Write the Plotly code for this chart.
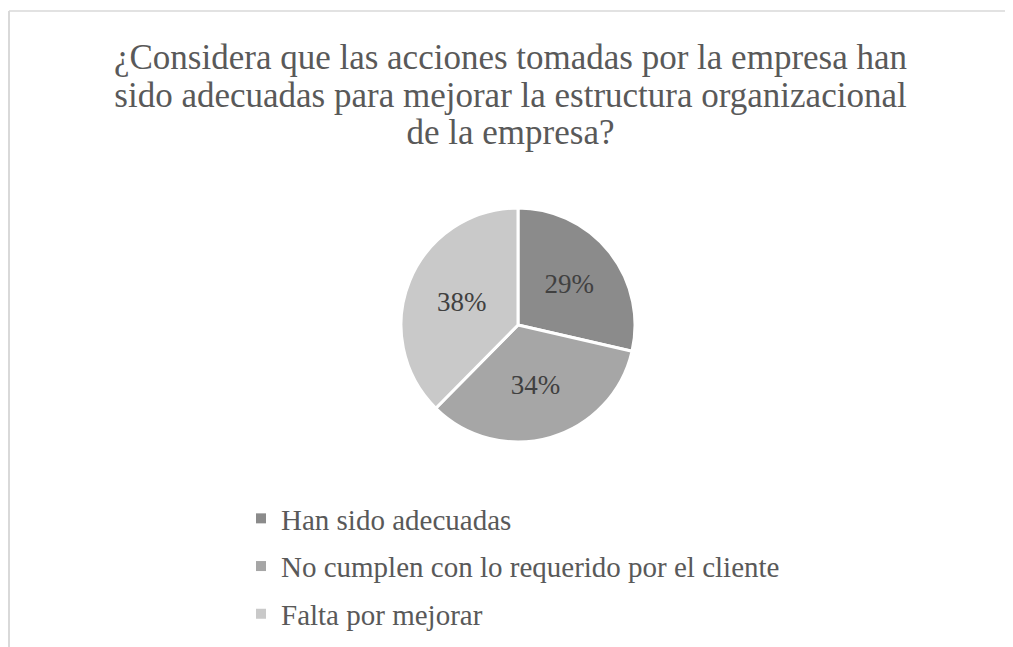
import plotly.graph_objects as go

categorias = ["Han sido adecuadas", "No cumplen con lo requerido por el cliente", "Falta por mejorar"]
porcentajes = [28.6, 33.8, 37.6]
colores = ["#8b8b8b", "#a6a6a6", "#c9c9c9"]

titulo_lineas = [
    "¿Considera que las acciones tomadas por la empresa han",
    "sido adecuadas para mejorar la estructura organizacional",
    "de la empresa?",
]

# la página tiene un margen de 8 px, la figura empieza en (8, 8)
OFF = 8
W, H = 1013 - OFF, 647 - OFF
fuente = "Liberation Serif"


def px(x):
    return (x - OFF) / W


def py(y):
    return 1 - (y - OFF) / H


# interlineado de 29 px * 1.3, letras a 35 px
titulo = "<br>".join(f"<span style='font-size:35px'>{t}</span>" for t in titulo_lineas)

fig = go.Figure()

# pastel
cx, cy, r = 518, 325, 117
fig.add_trace(
    go.Pie(
        labels=categorias,
        values=porcentajes,
        sort=False,
        direction="clockwise",
        rotation=0,
        marker=dict(colors=colores, line=dict(color="white", width=3)),
        texttemplate="%{percent:.0%}",
        textposition="inside",
        insidetextorientation="horizontal",
        textfont=dict(family=fuente, size=27, color="#404040"),
        domain=dict(x=[px(cx - r), px(cx + r)], y=[py(cy + r), py(cy - r)]),
        showlegend=False,
        hoverinfo="label+percent",
    )
)

# leyenda (un grupo por categoría para poder separar las filas)
for cat, col in zip(categorias, colores):
    fig.add_trace(
        go.Scatter(
            x=[None], y=[None],
            mode="markers",
            marker=dict(symbol="square", size=10, color=col),
            name=cat,
            legendgroup=cat,
            showlegend=True,
        )
    )

fig.update_layout(
    width=W,
    height=H,
    margin=dict(l=0, r=0, t=0, b=0),
    paper_bgcolor="white",
    plot_bgcolor="white",
    xaxis=dict(visible=False),
    yaxis=dict(visible=False),
    title=dict(
        text=titulo,
        x=0.5,
        xanchor="center",
        y=py(69),
        yanchor="top",
        font=dict(family=fuente, size=29, color="#595959"),
    ),
    legend=dict(
        x=px(241),
        xanchor="left",
        y=py(493),
        yanchor="top",
        tracegroupgap=7,
        font=dict(family=fuente, size=29, color="#595959"),
        bgcolor="rgba(0,0,0,0)",
    ),
    shapes=[
        dict(type="line", xref="paper", yref="paper",
             x0=0.001, x1=1, y0=py(11), y1=py(11),
             line=dict(color="#d9d9d9", width=1.5)),
        dict(type="line", xref="paper", yref="paper",
             x0=0.001, x1=0.001, y0=0, y1=py(11),
             line=dict(color="#d9d9d9", width=2)),
    ],
)

fig.write_html("out.html")
